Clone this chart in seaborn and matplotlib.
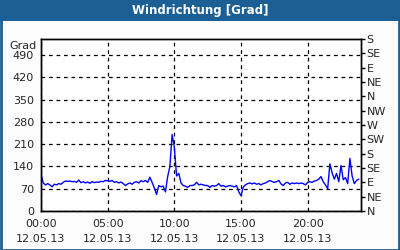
import numpy as np
import pandas as pd
import matplotlib
matplotlib.use("Agg")
import matplotlib.pyplot as plt
import seaborn as sns
from matplotlib.patches import Rectangle

sns.set_theme(style="white")
plt.rcParams['font.family'] = ['DejaVu Sans']

title = "Windrichtung [Grad]"
y_unit = "Grad"
x_tick_hours = [0, 5, 10, 15, 20]
x_tick_labels = ["00:00\n12.05.13", "05:00\n12.05.13", "10:00\n12.05.13",
                 "15:00\n12.05.13", "20:00\n12.05.13"]
left_ticks = [0, 70, 140, 210, 280, 350, 420, 490]
right_ticks = [0, 45, 90, 135, 180, 225, 270, 315, 360, 405, 450, 495, 540]
right_labels = ["N", "NE", "E", "SE", "S", "SW", "W", "NW", "N", "NE", "E", "SE", "S"]

# wind direction, 10-minute samples from 00:00
direction = [
    116, 88, 82, 86, 82, 76, 84, 82, 86, 84, 90, 94,
    93, 94, 92, 93, 90, 97, 89, 92, 88, 91, 87, 92,
    89, 91, 90, 93, 92, 96, 95, 93, 96, 90, 92, 88,
    91, 86, 80, 85, 88, 84, 90, 92, 88, 95, 92, 96,
    90, 106, 90, 72, 52, 80, 76, 78, 60, 108, 140, 240,
    200, 110, 118, 88, 80, 78, 74, 80, 80, 82, 90, 82,
    84, 82, 80, 80, 74, 80, 78, 80, 86, 78, 80, 76,
    78, 80, 78, 76, 80, 60, 48, 75, 82, 86, 88, 85,
    88, 84, 86, 82, 86, 88, 92, 96, 92, 90, 92, 96,
    85, 80, 88, 90, 84, 88, 86, 88, 86, 88, 86, 82,
    90, 92, 90, 94, 96, 100, 108, 92, 82, 70, 148, 120,
    100, 118, 92, 143, 98, 105, 86, 165, 110, 86, 96, 100,
]
hours = [i / 6 for i in range(len(direction))]

df = pd.DataFrame({"hour": hours, "direction": direction})

W, H = 400, 250
fig = plt.figure(figsize=(4, 2.5), dpi=100)
fig.patch.set_facecolor("#fbfcfb")
blue = "#1c5f95"
# title bar and border
fig.patches.append(Rectangle((0, 1 - 21 / H), 1, 21 / H, transform=fig.transFigure,
                             facecolor=blue, edgecolor="none", zorder=0))
fig.patches.append(Rectangle((0.5 / W, 0.5 / H), 1 - 2 / W, 1 - 1 / H, transform=fig.transFigure,
                             facecolor="none", edgecolor=blue, linewidth=2, zorder=1))
fig.text(0.5, 1 - 10.5 / H, title, color="white", fontsize=8.5, fontweight="bold",
         ha="center", va="center")

ax = fig.add_axes([41 / W, 1 - 211 / H, 320 / W, 172 / H])
ax.set_facecolor("white")
sns.lineplot(data=df, x="hour", y="direction", ax=ax, color="#0000ff", linewidth=1)
ax.set_xlim(0, 24)
ax.set_ylim(0, 540)
ax.set_xlabel("")
ax.set_ylabel("")
ax.set_yticks(left_ticks)
ax.set_yticklabels([str(v) for v in left_ticks], fontsize=8)
ax.set_xticks(x_tick_hours)
ax.set_xticklabels(x_tick_labels, fontsize=8, linespacing=1.55)
ax.set_xticks(range(0, 25), minor=True)
ax.tick_params(axis="x", which="both", direction="out", length=3, width=1, color="black", pad=3)
ax.tick_params(axis="y", which="both", length=0, pad=5)
ax.grid(True, axis="both", which="major", color="black", linestyle=(0, (3, 3)), linewidth=0.9)
for s in ax.spines.values():
    s.set_color("black")
    s.set_linewidth(1)

ax2 = ax.twinx()
ax2.set_ylim(0, 540)
ax2.set_yticks(right_ticks)
ax2.set_yticklabels(right_labels, fontsize=8)
ax2.tick_params(axis="y", direction="out", length=3, width=1, color="black", pad=1)
ax2.grid(False)
for s in ax2.spines.values():
    s.set_color("black")
    s.set_linewidth(1)

fig.text(37 / W, 1 - 46 / H, y_unit, fontsize=8, ha="right", va="center")

fig.savefig("out.png", dpi=100, facecolor=fig.get_facecolor())
